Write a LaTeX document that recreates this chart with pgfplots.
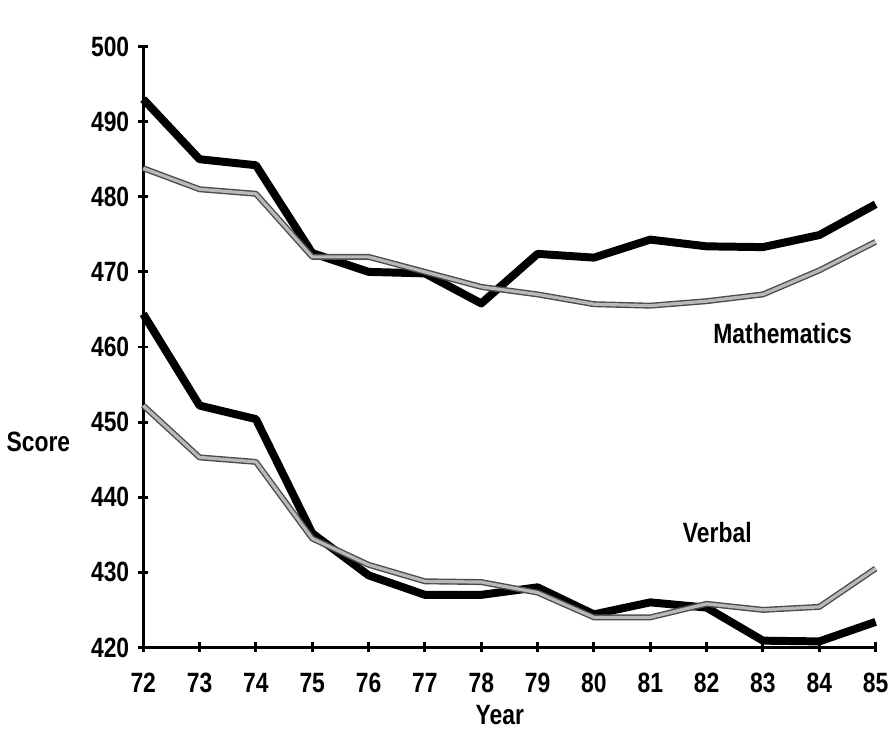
\documentclass[border=0pt]{standalone}
\usepackage{fontspec}
\setmainfont{Liberation Sans}[FakeStretch=0.82]
\usepackage{pgfplots}
\pgfplotsset{compat=1.18}

\begin{document}
\begin{tikzpicture}
\begin{axis}[
  scale only axis,
  width=367.5pt, height=301.5pt,
  xmin=72, xmax=85, ymin=420, ymax=500,
  axis lines=left,
  axis line style={line width=1.5pt, -},
  xtick={72,...,85}, ytick={420,430,...,500},
  tick align=center,
  major tick length=5pt,
  tick style={line width=1.5pt, black},
  font=\fontsize{14}{16}\selectfont\bfseries,
  /pgf/number format/assume math mode=true,
  xticklabel style={yshift=-7pt},
  yticklabel style={xshift=-1pt},
  clip=false,
]
% mathematics
\addplot[black, line width=4pt, line join=round] coordinates {
  (72,493) (73,485) (74,484.2) (75,472.5) (76,470) (77,469.8) (78,465.8)
  (79,472.4) (80,471.9) (81,474.3) (82,473.4) (83,473.3) (84,474.9) (85,479)};
\addplot[black!70, line width=3pt, line join=round] coordinates {
  (72,483.8) (73,481) (74,480.4) (75,472) (76,472) (77,470) (78,468)
  (79,467) (80,465.7) (81,465.5) (82,466.1) (83,467) (84,470.2) (85,474)};
\addplot[gray!55, line width=1.6pt, line join=round] coordinates {
  (72,483.8) (73,481) (74,480.4) (75,472) (76,472) (77,470) (78,468)
  (79,467) (80,465.7) (81,465.5) (82,466.1) (83,467) (84,470.2) (85,474)};
% verbal
\addplot[black, line width=4pt, line join=round] coordinates {
  (72,464.4) (73,452.2) (74,450.4) (75,435.2) (76,429.6) (77,427) (78,427)
  (79,428) (80,424.4) (81,426) (82,425.3) (83,420.9) (84,420.8) (85,423.4)};
\addplot[black!70, line width=3pt, line join=round] coordinates {
  (72,452.2) (73,445.3) (74,444.7) (75,434.5) (76,431) (77,428.8) (78,428.7)
  (79,427.3) (80,424) (81,424) (82,425.8) (83,425) (84,425.4) (85,430.5)};
\addplot[gray!55, line width=1.6pt, line join=round] coordinates {
  (72,452.2) (73,445.3) (74,444.7) (75,434.5) (76,431) (77,428.8) (78,428.7)
  (79,427.3) (80,424) (81,424) (82,425.8) (83,425) (84,425.4) (85,430.5)};
\node at (axis cs:70.14,447.3) {Score};
\node at (axis cs:83.35,461.8) {Mathematics};
\node at (axis cs:82.19,435.25) {Verbal};
\node at (axis cs:78.33,411.0) {Year};
\path (axis cs:69.471,506.2) rectangle (axis cs:85.30,408.33);
\end{axis}
\end{tikzpicture}
\end{document}
